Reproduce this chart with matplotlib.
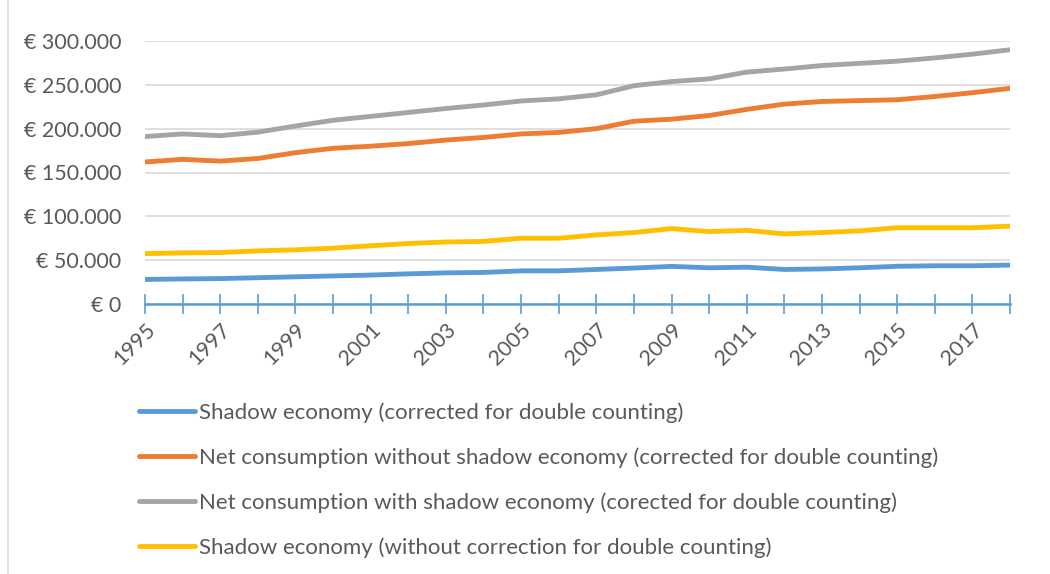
import matplotlib.pyplot as plt

years = list(range(1995, 2019))

shadow_corrected = [28.0, 28.6, 29.0, 30.0, 31.0, 32.0, 33.0, 34.4, 35.5, 36.0, 37.8, 37.8,
                    39.4, 41.0, 42.9, 41.3, 42.0, 39.4, 40.0, 41.3, 43.0, 43.6, 43.6, 44.4]
net_without_shadow = [162.0, 165.0, 163.0, 166.0, 172.6, 177.6, 180.0, 183.0, 187.0, 190.0, 194.0, 195.7,
                      200.0, 208.5, 210.8, 215.0, 222.0, 228.0, 231.0, 232.0, 233.0, 236.7, 241.0, 246.0]
net_with_shadow = [191.0, 194.0, 192.0, 196.0, 203.0, 209.6, 214.0, 218.5, 223.0, 227.0, 231.6, 234.0,
                   238.6, 249.0, 253.7, 256.8, 264.5, 268.0, 272.0, 274.5, 277.0, 280.7, 285.0, 290.0]
shadow_uncorrected = [57.5, 58.3, 58.7, 60.6, 61.8, 63.7, 66.4, 69.0, 70.7, 71.4, 75.0, 75.0,
                      78.8, 81.5, 86.0, 82.6, 84.0, 80.0, 81.5, 83.4, 87.0, 87.0, 87.0, 88.8]

labels = ['Shadow economy (corrected for double counting)',
          'Net consumption without shadow economy (corrected for double counting)',
          'Net consumption with shadow economy (corected for double counting)',
          'Shadow economy (without correction for double counting)']
colors = ['#5B9BD5', '#ED7D31', '#A5A5A5', '#FFC000']
yticks = [0, 50000, 100000, 150000, 200000, 250000, 300000]

plt.rcParams['font.family'] = ['Lato', 'DejaVu Sans']
text_col = '#595959'

fig = plt.figure(figsize=(10.5, 5.74), dpi=100)
ax = fig.add_axes([145 / 1050, 1 - 304 / 574, 865 / 1050, 263 / 574])

series = [shadow_corrected, net_without_shadow, net_with_shadow, shadow_uncorrected]
for vals, lab, col in zip(series, labels, colors):
    ax.plot(years, [v * 1000 for v in vals], color=col, lw=3.5, label=lab,
            solid_capstyle='round')

ax.set_xlim(1995, 2018)
ax.set_ylim(0, 300000)
ax.set_yticks(yticks)
ax.set_yticklabels(['€ ' + f'{v:,}'.replace(',', '.') for v in yticks],
                   color=text_col, fontsize=15.5)
ax.tick_params(axis='y', length=0, pad=17)
ax.grid(axis='y', color='#D9D9D9', lw=1.2)
ax.set_axisbelow(True)

ax.set_xticks(years)
ax.set_xticklabels([str(y) if (y - 1995) % 2 == 0 else '' for y in years],
                   rotation=45, ha='right', rotation_mode='anchor',
                   color=text_col, fontsize=15.5)
ax.tick_params(axis='x', direction='inout', length=14, width=1.2, color='#5B9BD5', pad=4)

for s in ['top', 'right', 'left']:
    ax.spines[s].set_visible(False)
ax.spines['bottom'].set_color('#5B9BD5')
ax.spines['bottom'].set_linewidth(1.8)

fig.legend(loc='upper left', bbox_to_anchor=(119 / 1050, 1 - 382 / 574), frameon=False,
           fontsize=16, labelcolor=text_col, handlelength=2.5, handletextpad=0.2,
           labelspacing=1.1)

fig.add_artist(plt.Line2D([8 / 1050, 8 / 1050], [0, 1], color='#D9D9D9', lw=1.2))

fig.savefig('out.png', dpi=100)
